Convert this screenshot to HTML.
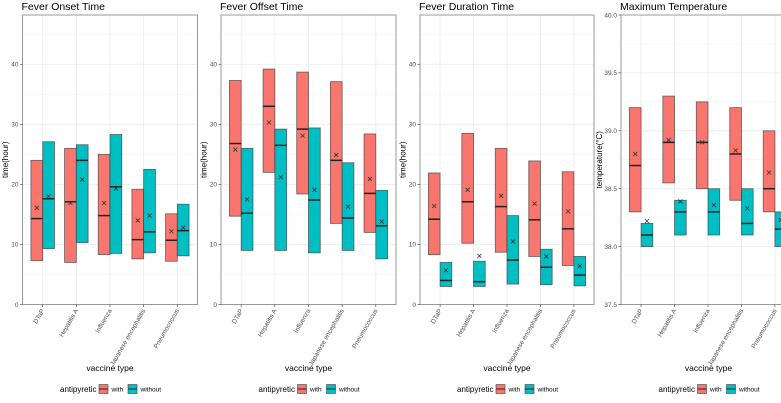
<!DOCTYPE html>
<html><head><meta charset="utf-8"><style>
html,body{margin:0;padding:0;background:#fff;}
svg{display:block;font-family:"Liberation Sans",sans-serif;}
</style></head><body>
<svg id="chart" width="781" height="403" viewBox="0 0 781 403" xmlns="http://www.w3.org/2000/svg"></svg>
<script>
const categories = ["DTaP","Hepatitis A","Influenza","Japanese encephalitis","Pneumococcus"];
const titles = ["Fever Onset Time","Fever Offset Time","Fever Duration Time","Maximum Temperature"];
// [top, bottom, median, mean] per category
const onsetWith    = [[24,7.3,14.3,16.1],[26,7,17.1,16.9],[25,8.3,14.8,16.9],[19.2,7.6,10.8,14],[15.1,7.2,10.7,12.2]];
const onsetWithout = [[27.1,9.3,17.6,18],[26.6,10.3,24,20.8],[28.3,8.5,19.6,19.3],[22.5,8.6,12.1,14.8],[16.7,8.1,12.3,12.8]];
const offsetWith    = [[37.3,14.7,26.8,25.8],[39.2,22,33,30.3],[38.7,18.4,29.2,28.1],[37.1,13.5,24,24.9],[28.4,12,18.5,20.9]];
const offsetWithout = [[26,9,15.2,17.5],[29.2,9,26.5,21.2],[29.4,8.6,17.4,19.1],[23.6,9,14.4,16.3],[19,7.6,13.1,13.8]];
const durWith    = [[21.9,8.3,14.2,16.4],[28.5,10.2,17.1,19.1],[26,8.7,16.3,18.1],[23.9,8,14.1,16.8],[22.1,6.5,12.6,15.5]];
const durWithout = [[7,3,4,5.7],[7.2,3,3.8,8.1],[14.8,3.4,7.4,10.5],[9.2,3.3,6.2,8],[8,3.1,4.9,6.4]];
const tempWith    = [[39.2,38.3,38.7,38.8],[39.3,38.55,38.9,38.92],[39.25,38.5,38.9,38.9],[39.2,38.4,38.8,38.83],[39.0,38.3,38.5,38.64]];
const tempWithout = [[38.2,38.0,38.1,38.22],[38.4,38.1,38.3,38.39],[38.5,38.1,38.3,38.36],[38.5,38.1,38.2,38.33],[38.3,38.0,38.15,38.23]];
const timeTicks = [0,10,20,30,40];
const timeTickLabels = ["0","10","20","30","40"];
const tempTicks = [37.5,38.0,38.5,39.0,39.5,40.0];
const tempTickLabels = ["37.5","38.0","38.5","39.0","39.5","40.0"];

const NS="http://www.w3.org/2000/svg";
const svg=document.getElementById('chart');
function mk(tag,attrs,parent){const e=document.createElementNS(NS,tag);for(const k in attrs)e.setAttribute(k,attrs[k]);(parent||svg).appendChild(e);return e;}

const panels=[
 {x0:22.5,x1:197.5,dmin:0,dmax:48.2,ticks:timeTicks,labels:timeTickLabels,minor:[5,15,25,35,45],ylab:"time(hour)",yo:14.5,w:onsetWith,wo:onsetWithout},
 {x0:221,x1:396,dmin:0,dmax:48.2,ticks:timeTicks,labels:timeTickLabels,minor:[5,15,25,35,45],ylab:"time(hour)",yo:14.5,w:offsetWith,wo:offsetWithout},
 {x0:420,x1:594,dmin:0,dmax:48.2,ticks:timeTicks,labels:timeTickLabels,minor:[5,15,25,35,45],ylab:"time(hour)",yo:14.5,w:durWith,wo:durWithout},
 {x0:621,x1:795,dmin:37.5,dmax:40,ticks:tempTicks,labels:tempTickLabels,minor:[37.75,38.25,38.75,39.25,39.75],ylab:"temperature(°C)",yo:19,w:tempWith,wo:tempWithout}
];
const Y0=304.5,Y1=15;
panels.forEach((p,pi)=>{
  const g=mk('g',{});
  
  
  const yS=v=>Y0-(v-p.dmin)/(p.dmax-p.dmin)*(Y0-Y1);
  const n=categories.length, step=(p.x1-p.x0)/(n-1+1.2);
  const xS=i=>p.x0+step*(0.6+i);
  mk('rect',{x:p.x0,y:Y1,width:p.x1-p.x0,height:Y0-Y1,fill:'#fff'},g);
  p.minor.forEach(v=>{if(v<=p.dmax)mk('line',{x1:p.x0,x2:p.x1,y1:yS(v),y2:yS(v),stroke:'#f2f2f2','stroke-width':0.5},g);});
  p.ticks.forEach(v=>mk('line',{x1:p.x0,x2:p.x1,y1:yS(v),y2:yS(v),stroke:'#ebebeb','stroke-width':0.8},g));
  categories.forEach((c,i)=>mk('line',{x1:xS(i),x2:xS(i),y1:Y1,y2:Y0,stroke:'#ebebeb','stroke-width':0.8},g));
  const bw=step*0.35;
  [[p.w,'#F8766D',-1,'with'],[p.wo,'#00BFC4',0,'without']].forEach(([arr,col,off,nm])=>{
    arr.forEach((d,i)=>{
      const bx=xS(i)+off*bw;
      const r=mk('rect',{x:bx,y:yS(d[0]),width:bw,height:yS(d[1])-yS(d[0]),fill:col,stroke:'#333','stroke-width':0.8,'stroke-opacity':0.7},g);
      
      
      mk('line',{x1:bx,x2:bx+bw,y1:yS(d[2]),y2:yS(d[2]),stroke:'#222','stroke-width':1.5},g);
      const mx=bx+bw/2,my=yS(d[3]);
      const m=mk('path',{d:`M${mx-2},${my-2}L${mx+2},${my+2}M${mx-2},${my+2}L${mx+2},${my-2}`,stroke:'#333','stroke-width':0.8},g);
      
      
    });
  });
  mk('rect',{x:p.x0,y:Y1,width:p.x1-p.x0,height:Y0-Y1,fill:'none',stroke:'#999','stroke-width':1},g);
  p.ticks.forEach((v,k)=>{
    mk('line',{x1:p.x0-2.5,x2:p.x0,y1:yS(v),y2:yS(v),stroke:'#333','stroke-width':0.6},g);
    const t=mk('text',{x:p.x0-4,y:yS(v)+2.3,'text-anchor':'end','font-size':6.5,fill:'#4d4d4d'},g);
    t.textContent=p.labels[k];
    
    
  });
  categories.forEach((c,i)=>{
    mk('line',{x1:xS(i),x2:xS(i),y1:Y0,y2:Y0+2.5,stroke:'#333','stroke-width':0.6},g);
    const t=mk('text',{x:0,y:0,'text-anchor':'end','font-size':6.5,fill:'#4d4d4d',transform:`translate(${xS(i)+2},${Y0+6}) rotate(-60)`},g);
    t.textContent=c;
    
    
  });
  const tt=mk('text',{x:p.x0-1,y:10,'font-size':10.5,fill:'#000'},g);
  tt.textContent=titles[pi];
  
  
  const yl=mk('text',{x:0,y:0,'text-anchor':'middle','font-size':8,fill:'#000',transform:`translate(${p.x0-p.yo},${(Y0+Y1)/2}) rotate(-90)`},g);
  yl.textContent=p.ylab;
  
  
  const cx=(p.x0+(pi==3?p.x0+175:p.x1))/2;
  const xl=mk('text',{x:cx,y:371,'text-anchor':'middle','font-size':8.5,fill:'#000'},g);
  xl.textContent='vaccine type';
  
  
  const lg=mk('g',{},g);
  
  
  const lx=cx-50, ly=389;
  const lt=mk('text',{x:lx,y:ly+3,'font-size':8,fill:'#000'},lg); lt.textContent='antipyretic';
  [['#F8766D',lx+39,'with'],['#00BFC4',lx+68,'without']].forEach(([col,kx,lab])=>{
    const k=mk('rect',{x:kx,y:ly-4.5,width:9,height:9,fill:col,stroke:'#444','stroke-width':0.6},lg);
    
    
    mk('line',{x1:kx,x2:kx+9,y1:ly,y2:ly,stroke:'#222','stroke-width':1},lg);
    const t=mk('text',{x:kx+12.5,y:ly+2.5,'font-size':6.5,fill:'#000'},lg); t.textContent=lab;
  });
});
</script>
</body></html>
